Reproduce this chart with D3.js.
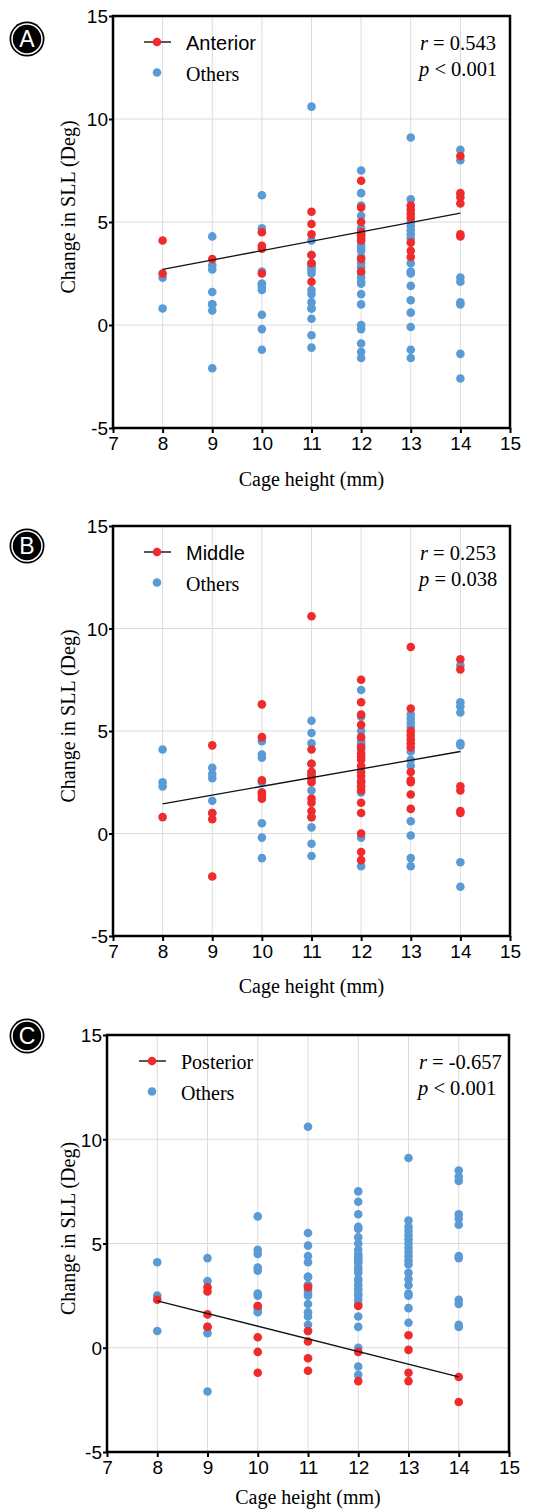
<!DOCTYPE html>
<html>
<head>
<meta charset="utf-8">
<script src="https://cdn.jsdelivr.net/npm/d3@7"></script>
<style>
  body { margin: 0; background: #fff; }
  svg { display: block; }
</style>
</head>
<body>
<svg id="chart"></svg>
<script>
(function SllCageHeightChart() {

  // cage heights (mm) and the change in SLL (deg) of every case,
  // with its cage position: A = anterior, M = middle, P = posterior
  var cageHeights = [8, 9, 10, 11, 12, 13, 14];

  var sll8 = [4.1, 2.5, 2.3, 0.8];
  var pos8 = ['A', 'A', 'P', 'M'];

  var sll9 = [4.3, 3.2, 2.9, 2.7, 1.6, 1.0, 1.0, 0.7, -2.1];
  var pos9 = ['M', 'A', 'P', 'P', 'P', 'M', 'P', 'M', 'M'];

  var sll10 = [6.3, 4.7, 4.5, 3.85, 3.7, 2.6, 2.5, 2.0, 2.0, 1.85, 1.7, 0.5, -0.2, -1.2];
  var pos10 = ['M', 'M', 'A', 'A', 'A', 'M', 'A', 'M', 'P', 'M', 'M', 'P', 'P', 'P'];

  var sll11 = [10.6, 5.5, 4.9, 4.4, 4.1, 3.4, 3.4, 3.0, 3.0, 2.9, 2.8, 2.65, 2.5, 2.1, 1.7, 1.5, 1.1, 0.8, 0.8, 0.3, -0.5, -1.1];
  var pos11 = ['M', 'A', 'A', 'A', 'M', 'A', 'M', 'A', 'M', 'P', 'M', 'M', 'M', 'A', 'M', 'M', 'M', 'M', 'P', 'P', 'P', 'P'];

  var sll12 = [7.5, 7.0, 6.4, 5.8, 5.7, 5.3, 5.0, 4.7, 4.5, 4.4, 4.3, 4.2, 4.1, 3.9, 3.75, 3.6, 3.3, 3.2, 3.0, 2.8, 2.6, 2.5, 2.3, 2.1, 2.0, 1.5, 1.0, 0.0, -0.2, -0.9, -1.3, -1.6];
  var pos12 = ['M', 'A', 'M', 'M', 'A', 'M', 'A', 'M', 'A', 'A', 'A', 'M', 'A', 'M', 'M', 'M', 'M', 'A', 'M', 'M', 'A', 'M', 'M', 'M', 'P', 'M', 'M', 'M', 'P', 'M', 'M', 'P'];

  var sll13 = [9.1, 6.1, 5.8, 5.6, 5.4, 5.2, 5.0, 4.8, 4.6, 4.4, 4.2, 4.0, 3.6, 3.3, 3.0, 2.6, 2.5, 1.9, 1.2, 0.6, -0.1, -1.2, -1.6];
  var pos13 = ['M', 'M', 'A', 'A', 'A', 'A', 'M', 'M', 'M', 'M', 'M', 'A', 'A', 'A', 'M', 'M', 'M', 'M', 'M', 'P', 'P', 'P', 'P'];

  var sll14 = [8.5, 8.2, 8.0, 6.4, 6.2, 5.9, 4.4, 4.3, 2.3, 2.1, 1.1, 1.0, -1.4, -2.6];
  var pos14 = ['M', 'A', 'M', 'A', 'A', 'A', 'A', 'A', 'M', 'M', 'M', 'M', 'P', 'P'];

  var sllByHeight = [sll8, sll9, sll10, sll11, sll12, sll13, sll14];
  var posByHeight = [pos8, pos9, pos10, pos11, pos12, pos13, pos14];

  var xTicks = [7, 8, 9, 10, 11, 12, 13, 14, 15];
  var yTicks = [-5, 0, 5, 10, 15];

  var panelLetters = ['A', 'B', 'C'];
  var panelGroups = ['A', 'M', 'P'];
  var panelNames = ['Anterior', 'Middle', 'Posterior'];
  var rValues = ['0.543', '0.253', '-0.657'];
  var pValues = ['< 0.001', '= 0.038', '< 0.001'];

  // regression line ends (at 8 mm and 14 mm)
  var fitStart = [2.7, 1.45, 2.25];
  var fitEnd = [5.43, 4.0, -1.4];

  //--------------------------------------------------

  var width = 542,
    height = 1512;

  var layouts = [
    { left: 113, right: 510, top: 16, bottom: 428, badgeY: 39, legendX: 157, statX: 420, titleGap: 58, nameFont: 'sans' },
    { left: 113, right: 510, top: 526, bottom: 936, badgeY: 546, legendX: 157, statX: 420, titleGap: 57, nameFont: 'sans' },
    { left: 107, right: 509, top: 1035, bottom: 1452, badgeY: 1036, legendX: 152, statX: 419, titleGap: 52, nameFont: 'serif' }
  ];

  var RED = '#ef2b2b',
    BLUE = '#5b9bd5',
    SANS = '"Liberation Sans", Arial, sans-serif',
    SERIF = '"Liberation Serif", "Times New Roman", serif';

  var points = [];
  cageHeights.forEach(function(h, i) {
    sllByHeight[i].forEach(function(v, j) {
      points.push({ x: h, y: v, pos: posByHeight[i][j] });
    });
  });

  var svg = d3.select('#chart')
    .attr('width', width)
    .attr('height', height);

  layouts.forEach(function(layout, i) {
    drawPanel(layout, i);
  });

  //--------------------------------------------------

  function plainNumber(d) {
    return String(d);
  }

  function drawPanel(layout, i) {
    var group = panelGroups[i];

    var x = d3.scaleLinear().domain([7, 15]).range([layout.left, layout.right]);
    var y = d3.scaleLinear().domain([-5, 15]).range([layout.bottom, layout.top]);

    var g = svg.append('g');

    // grid
    g.append('g')
      .selectAll('line')
      .data(xTicks.slice(1, -1))
      .enter().append('line')
      .attr('x1', function(d) { return x(d); })
      .attr('x2', function(d) { return x(d); })
      .attr('y1', layout.top)
      .attr('y2', layout.bottom)
      .style('stroke', '#dcdcdc')
      .style('stroke-width', 1);

    g.append('g')
      .selectAll('line')
      .data(yTicks.slice(1, -1))
      .enter().append('line')
      .attr('x1', layout.left)
      .attr('x2', layout.right)
      .attr('y1', function(d) { return y(d); })
      .attr('y2', function(d) { return y(d); })
      .style('stroke', '#dcdcdc')
      .style('stroke-width', 1);

    // axes
    var xAxis = g.append('g')
      .attr('transform', 'translate(0,' + layout.bottom + ')')
      .call(d3.axisBottom(x).tickValues(xTicks).tickSize(5).tickPadding(4).tickFormat(plainNumber));

    var yAxis = g.append('g')
      .attr('transform', 'translate(' + layout.left + ',0)')
      .call(d3.axisLeft(y).tickValues(yTicks).tickSize(4).tickPadding(1).tickFormat(plainNumber));

    [xAxis, yAxis].forEach(function(axis) {
      axis.select('.domain').remove();
      axis.selectAll('.tick line').style('stroke', '#000').style('stroke-width', 2);
      axis.selectAll('.tick text')
        .style('font-family', SANS)
        .style('font-size', '19px')
        .style('fill', '#000');
    });
    yAxis.selectAll('.tick text').attr('dy', '0.36em');

    // points: others first, the highlighted group on top
    var others = points.filter(function(d) { return d.pos !== group; });
    var marked = points.filter(function(d) { return d.pos === group; });

    g.append('g')
      .selectAll('circle')
      .data(others)
      .enter().append('circle')
      .attr('cx', function(d) { return x(d.x); })
      .attr('cy', function(d) { return y(d.y); })
      .attr('r', 4.3)
      .style('fill', BLUE);

    g.append('g')
      .selectAll('circle')
      .data(marked)
      .enter().append('circle')
      .attr('cx', function(d) { return x(d.x); })
      .attr('cy', function(d) { return y(d.y); })
      .attr('r', 4.3)
      .style('fill', RED);

    // regression line
    g.append('line')
      .attr('x1', x(cageHeights[0]))
      .attr('y1', y(fitStart[i]))
      .attr('x2', x(cageHeights[cageHeights.length - 1]))
      .attr('y2', y(fitEnd[i]))
      .style('stroke', '#111')
      .style('stroke-width', 1.3);

    // frame
    g.append('rect')
      .attr('x', layout.left)
      .attr('y', layout.top)
      .attr('width', layout.right - layout.left)
      .attr('height', layout.bottom - layout.top)
      .style('fill', 'none')
      .style('stroke', '#000')
      .style('stroke-width', 2.5);

    // legend
    var lx = layout.legendX;
    var ly = layout.top + 26;

    g.append('line')
      .attr('x1', lx - 13).attr('x2', lx + 14)
      .attr('y1', ly).attr('y2', ly)
      .style('stroke', '#000')
      .style('stroke-width', 1.3);
    g.append('circle').attr('cx', lx).attr('cy', ly).attr('r', 4.3).style('fill', RED);
    g.append('text')
      .attr('x', lx + 29)
      .attr('y', layout.top + 34)
      .text(panelNames[i])
      .style('font-family', layout.nameFont === 'sans' ? SANS : SERIF)
      .style('font-size', '20px');

    g.append('circle').attr('cx', lx).attr('cy', ly + 30.5).attr('r', 4.3).style('fill', BLUE);
    g.append('text')
      .attr('x', lx + 29)
      .attr('y', layout.top + 64.5)
      .text('Others')
      .style('font-family', SERIF)
      .style('font-size', '20px');

    // stats
    var stats = g.append('g')
      .style('font-family', SERIF)
      .style('font-size', '20.5px');

    var rText = stats.append('text').attr('x', layout.statX).attr('y', layout.top + 34);
    rText.append('tspan').style('font-style', 'italic').text('r');
    rText.append('tspan').text(' = ' + rValues[i]);

    var pText = stats.append('text').attr('x', layout.statX - 1).attr('y', layout.top + 59.5);
    pText.append('tspan').style('font-style', 'italic').text('p');
    pText.append('tspan').text(' ' + pValues[i]);

    // axis titles
    g.append('text')
      .attr('x', (layout.left + layout.right) / 2)
      .attr('y', layout.bottom + layout.titleGap)
      .attr('text-anchor', 'middle')
      .text('Cage height (mm)')
      .style('font-family', SERIF)
      .style('font-size', '20px');

    var ty = (layout.top + layout.bottom) / 2 - 15;
    g.append('text')
      .attr('transform', 'translate(68,' + ty + ') rotate(-90)')
      .attr('dy', '0.35em')
      .attr('text-anchor', 'middle')
      .text('Change in SLL (Deg)')
      .style('font-family', SERIF)
      .style('font-size', '20px');

    // panel badge
    var badge = g.append('g').attr('transform', 'translate(27,' + layout.badgeY + ')');
    badge.append('circle').attr('r', 17.5).style('fill', '#000');
    badge.append('circle').attr('r', 15).style('fill', 'none').style('stroke', '#fff').style('stroke-width', 1.5);
    badge.append('text')
      .attr('text-anchor', 'middle')
      .attr('dy', '0.36em')
      .text(panelLetters[i])
      .style('fill', '#fff')
      .style('font-family', SANS)
      .style('font-size', '23px');
  }

})();
</script>
</body>
</html>
